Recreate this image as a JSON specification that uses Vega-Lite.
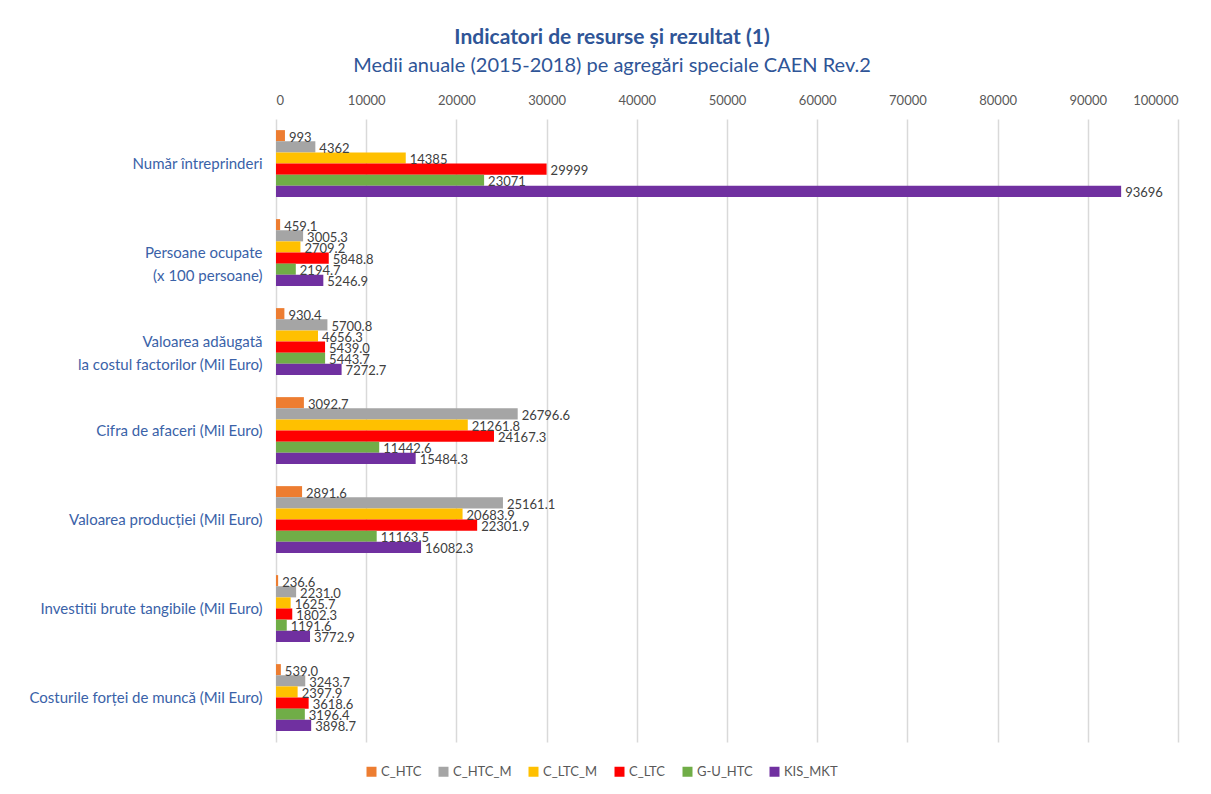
{
  "$schema": "https://vega.github.io/schema/vega-lite/v6.json",
  "autosize": {"type": "none"},
  "width": 902,
  "height": 623,
  "padding": {"left": 276, "top": 119, "right": 33, "bottom": 52},
  "background": "white",
  "config": {
    "font": "Lato",
    "view": {"stroke": null}
  },
  "title": {
    "text": "Indicatori de resurse și rezultat (1)",
    "subtitle": "Medii anuale (2015-2018) pe agregări speciale CAEN Rev.2",
    "anchor": "middle",
    "dx": -115,
    "offset": 18,
    "fontSize": 21,
    "fontWeight": "bold",
    "color": "#2F5597",
    "subtitleFontSize": 20,
    "subtitleColor": "#2F5597",
    "subtitlePadding": 8,
    "font": "Lato",
    "subtitleFont": "Lato"
  },
  "data": {
    "values": [
      {"cat": "Număr întreprinderi", "series": "C_HTC", "value": 993, "label": "993"},
      {"cat": "Număr întreprinderi", "series": "C_HTC_M", "value": 4362, "label": "4362"},
      {"cat": "Număr întreprinderi", "series": "C_LTC_M", "value": 14385, "label": "14385"},
      {"cat": "Număr întreprinderi", "series": "C_LTC", "value": 29999, "label": "29999"},
      {"cat": "Număr întreprinderi", "series": "G-U_HTC", "value": 23071, "label": "23071"},
      {"cat": "Număr întreprinderi", "series": "KIS_MKT", "value": 93696, "label": "93696"},
      {"cat": "Persoane ocupate|(x 100 persoane)", "series": "C_HTC", "value": 459.1, "label": "459.1"},
      {"cat": "Persoane ocupate|(x 100 persoane)", "series": "C_HTC_M", "value": 3005.3, "label": "3005.3"},
      {"cat": "Persoane ocupate|(x 100 persoane)", "series": "C_LTC_M", "value": 2709.2, "label": "2709.2"},
      {"cat": "Persoane ocupate|(x 100 persoane)", "series": "C_LTC", "value": 5848.8, "label": "5848.8"},
      {"cat": "Persoane ocupate|(x 100 persoane)", "series": "G-U_HTC", "value": 2194.7, "label": "2194.7"},
      {"cat": "Persoane ocupate|(x 100 persoane)", "series": "KIS_MKT", "value": 5246.9, "label": "5246.9"},
      {"cat": "Valoarea adăugată|la costul factorilor (Mil Euro)", "series": "C_HTC", "value": 930.4, "label": "930.4"},
      {"cat": "Valoarea adăugată|la costul factorilor (Mil Euro)", "series": "C_HTC_M", "value": 5700.8, "label": "5700.8"},
      {"cat": "Valoarea adăugată|la costul factorilor (Mil Euro)", "series": "C_LTC_M", "value": 4656.3, "label": "4656.3"},
      {"cat": "Valoarea adăugată|la costul factorilor (Mil Euro)", "series": "C_LTC", "value": 5439.0, "label": "5439.0"},
      {"cat": "Valoarea adăugată|la costul factorilor (Mil Euro)", "series": "G-U_HTC", "value": 5443.7, "label": "5443.7"},
      {"cat": "Valoarea adăugată|la costul factorilor (Mil Euro)", "series": "KIS_MKT", "value": 7272.7, "label": "7272.7"},
      {"cat": "Cifra de afaceri (Mil Euro)", "series": "C_HTC", "value": 3092.7, "label": "3092.7"},
      {"cat": "Cifra de afaceri (Mil Euro)", "series": "C_HTC_M", "value": 26796.6, "label": "26796.6"},
      {"cat": "Cifra de afaceri (Mil Euro)", "series": "C_LTC_M", "value": 21261.8, "label": "21261.8"},
      {"cat": "Cifra de afaceri (Mil Euro)", "series": "C_LTC", "value": 24167.3, "label": "24167.3"},
      {"cat": "Cifra de afaceri (Mil Euro)", "series": "G-U_HTC", "value": 11442.6, "label": "11442.6"},
      {"cat": "Cifra de afaceri (Mil Euro)", "series": "KIS_MKT", "value": 15484.3, "label": "15484.3"},
      {"cat": "Valoarea producției (Mil Euro)", "series": "C_HTC", "value": 2891.6, "label": "2891.6"},
      {"cat": "Valoarea producției (Mil Euro)", "series": "C_HTC_M", "value": 25161.1, "label": "25161.1"},
      {"cat": "Valoarea producției (Mil Euro)", "series": "C_LTC_M", "value": 20683.9, "label": "20683.9"},
      {"cat": "Valoarea producției (Mil Euro)", "series": "C_LTC", "value": 22301.9, "label": "22301.9"},
      {"cat": "Valoarea producției (Mil Euro)", "series": "G-U_HTC", "value": 11163.5, "label": "11163.5"},
      {"cat": "Valoarea producției (Mil Euro)", "series": "KIS_MKT", "value": 16082.3, "label": "16082.3"},
      {"cat": "Investitii brute tangibile (Mil Euro)", "series": "C_HTC", "value": 236.6, "label": "236.6"},
      {"cat": "Investitii brute tangibile (Mil Euro)", "series": "C_HTC_M", "value": 2231.0, "label": "2231.0"},
      {"cat": "Investitii brute tangibile (Mil Euro)", "series": "C_LTC_M", "value": 1625.7, "label": "1625.7"},
      {"cat": "Investitii brute tangibile (Mil Euro)", "series": "C_LTC", "value": 1802.3, "label": "1802.3"},
      {"cat": "Investitii brute tangibile (Mil Euro)", "series": "G-U_HTC", "value": 1191.6, "label": "1191.6"},
      {"cat": "Investitii brute tangibile (Mil Euro)", "series": "KIS_MKT", "value": 3772.9, "label": "3772.9"},
      {"cat": "Costurile forței de muncă (Mil Euro)", "series": "C_HTC", "value": 539.0, "label": "539.0"},
      {"cat": "Costurile forței de muncă (Mil Euro)", "series": "C_HTC_M", "value": 3243.7, "label": "3243.7"},
      {"cat": "Costurile forței de muncă (Mil Euro)", "series": "C_LTC_M", "value": 2397.9, "label": "2397.9"},
      {"cat": "Costurile forței de muncă (Mil Euro)", "series": "C_LTC", "value": 3618.6, "label": "3618.6"},
      {"cat": "Costurile forței de muncă (Mil Euro)", "series": "G-U_HTC", "value": 3196.4, "label": "3196.4"},
      {"cat": "Costurile forței de muncă (Mil Euro)", "series": "KIS_MKT", "value": 3898.7, "label": "3898.7"}
    ]
  },
  "encoding": {
    "y": {
      "field": "cat",
      "type": "nominal",
      "sort": null,
      "title": null,
      "scale": {"paddingInner": 0.25, "paddingOuter": 0.125},
      "axis": {
        "labelExpr": "split(datum.label, '|')",
        "labelFontSize": 15,
        "labelColor": "#3A62A8",
        "labelPadding": 14,
        "labelLineHeight": 23,
        "ticks": false,
        "domain": false,
        "labelLimit": 300
      }
    },
    "yOffset": {
      "field": "series",
      "type": "nominal",
      "sort": ["C_HTC", "C_HTC_M", "C_LTC_M", "C_LTC", "G-U_HTC", "KIS_MKT"],
      "scale": {"paddingInner": 0, "paddingOuter": 0}
    },
    "x": {
      "field": "value",
      "type": "quantitative",
      "title": null,
      "scale": {"domain": [0, 100000], "nice": false},
      "axis": {
        "orient": "top",
        "values": [0, 10000, 20000, 30000, 40000, 50000, 60000, 70000, 80000, 90000, 100000],
        "format": "d",
        "labelOverlap": false,
        "labelFontSize": 13,
        "labelColor": "#595959",
        "labelPadding": 12,
        "ticks": false,
        "domain": false,
        "grid": true,
        "gridColor": "#D9D9D9",
        "gridWidth": 1.5
      }
    }
  },
  "layer": [
    {
      "mark": {"type": "bar"},
      "encoding": {
        "color": {
          "field": "series",
          "type": "nominal",
          "sort": ["C_HTC", "C_HTC_M", "C_LTC_M", "C_LTC", "G-U_HTC", "KIS_MKT"],
          "scale": {
            "domain": ["C_HTC", "C_HTC_M", "C_LTC_M", "C_LTC", "G-U_HTC", "KIS_MKT"],
            "range": ["#ED7D31", "#A5A5A5", "#FFC000", "#FF0000", "#70AD47", "#7030A0"]
          },
          "legend": {
            "title": null,
            "orient": "none",
            "direction": "horizontal",
            "legendX": 89,
            "legendY": 646,
            "symbolType": "square",
            "symbolSize": 100,
            "symbolStrokeWidth": 0,
            "labelFontSize": 13,
            "labelColor": "#595959",
            "labelOffset": 3,
            "columnPadding": 15
          }
        }
      }
    },
    {
      "mark": {"type": "text", "align": "left", "baseline": "middle", "dx": 4, "dy": 2, "fontSize": 13, "color": "#404040"},
      "encoding": {
        "text": {"field": "label", "type": "nominal"}
      }
    }
  ]
}
